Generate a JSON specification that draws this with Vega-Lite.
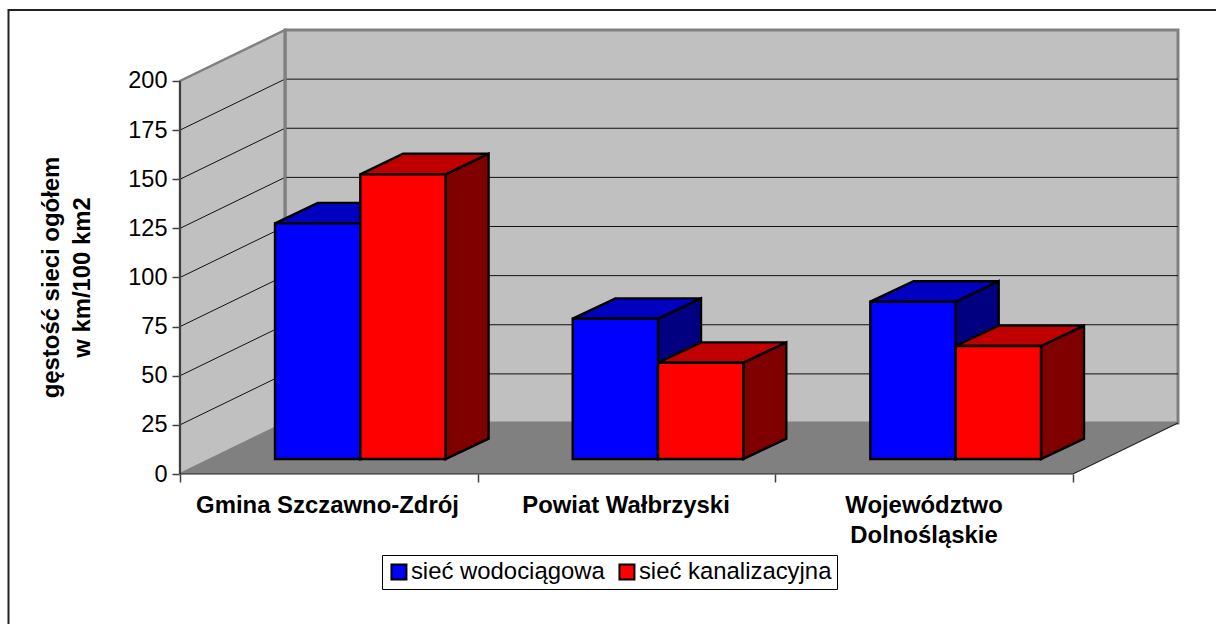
{
"$schema":"https://vega.github.io/schema/vega-lite/v6.json",
"autosize":{"type":"none"},
"padding":{"left":180,"top":30,"right":0,"bottom":150},
"width":1036,"height":444,
"background":"white",
"config":{"view":{"stroke":null},"font":"Liberation Sans"},
"datasets":{
"boki":[
{"id":"b1","seria":"sieć wodociągowa","x":180.3,"y":127.58,"y2":7.63},{"id":"b1","seria":"sieć wodociągowa","x":223.3,"y":138,"y2":18},
{"id":"b2","seria":"sieć wodociągowa","x":478,"y":79.03,"y2":7.63},{"id":"b2","seria":"sieć wodociągowa","x":521,"y":89.4,"y2":18},
{"id":"b3","seria":"sieć wodociągowa","x":775.7,"y":87.68,"y2":7.63},{"id":"b3","seria":"sieć wodociągowa","x":818.7,"y":98.1,"y2":18},
{"id":"r1","seria":"sieć kanalizacyjna","x":265.6,"y":152.5,"y2":7.63},{"id":"r1","seria":"sieć kanalizacyjna","x":308.6,"y":163,"y2":18},
{"id":"r2","seria":"sieć kanalizacyjna","x":563.3,"y":56.64,"y2":7.63},{"id":"r2","seria":"sieć kanalizacyjna","x":606.3,"y":67,"y2":18},
{"id":"r3","seria":"sieć kanalizacyjna","x":861,"y":65.14,"y2":7.63},{"id":"r3","seria":"sieć kanalizacyjna","x":904,"y":75.5,"y2":18}
],
"wierzchy":[
{"id":"b1","seria":"sieć wodociągowa","y":127.58,"x":95,"x2":180.3},{"id":"b1","seria":"sieć wodociągowa","y":138,"x":138,"x2":223.3},
{"id":"b2","seria":"sieć wodociągowa","y":79.03,"x":392.7,"x2":478},{"id":"b2","seria":"sieć wodociągowa","y":89.4,"x":435.7,"x2":521},
{"id":"b3","seria":"sieć wodociągowa","y":87.68,"x":690.3,"x2":775.7},{"id":"b3","seria":"sieć wodociągowa","y":98.1,"x":733.3,"x2":818.7},
{"id":"r1","seria":"sieć kanalizacyjna","y":152.5,"x":180.3,"x2":265.6},{"id":"r1","seria":"sieć kanalizacyjna","y":163,"x":223.3,"x2":308.6},
{"id":"r2","seria":"sieć kanalizacyjna","y":56.64,"x":478,"x2":563.3},{"id":"r2","seria":"sieć kanalizacyjna","y":67,"x":521,"x2":606.3},
{"id":"r3","seria":"sieć kanalizacyjna","y":65.14,"x":775.7,"x2":861},{"id":"r3","seria":"sieć kanalizacyjna","y":75.5,"x":818.7,"x2":904}
]
},
"encoding":{
"x":{"field":"x","type":"quantitative","title":null,"scale":{"domain":[0,1036],"nice":false,"zero":false},
"axis":{"values":[0,297.7,595.3,893],"labels":false,"domain":false,"grid":false,"tickSize":8,"tickWidth":1.5,"tickColor":"#404040"}},
"y":{"field":"y","type":"quantitative","title":["gęstość sieci ogółem","w km/100 km2"],"scale":{"domain":[0,225.95],"nice":false,"zero":false},
"axis":{"values":[0,25,50,75,100,125,150,175,200],"domain":false,"grid":false,"tickSize":8,"tickWidth":1.5,"tickColor":"#404040","labelFontSize":23.5,"labelColor":"black","labelPadding":5,"labelFont":"Liberation Sans",
"titleFontSize":23.9,"titleFont":"Liberation Sans","titleFontWeight":"bold","titleColor":"black","titleLineHeight":31,"titleAngle":-90,"titleX":-122,"titleY":247,"titleAlign":"center","titleBaseline":"alphabetic"}}
},
"layer":[
{"data":{"values":[{"x":-171.5,"x2":1060,"y":236.1,"y2":-90}]},"mark":{"type":"rect","fill":"transparent","stroke":"#222222","strokeWidth":2,"clip":false},"encoding":{"x2":{"field":"x2"},"y2":{"field":"y2"}}},
{"data":{"values":[{"x":105,"x2":998,"y":25.95,"y2":225.95}]},"mark":{"type":"rect","fill":"#C0C0C0","stroke":"#808080","strokeWidth":3},"encoding":{"x2":{"field":"x2"},"y2":{"field":"y2"}}},
{"data":{"values":[{"x":0,"y":0,"y2":200},{"x":105,"y":25.95,"y2":225.95}]},"mark":{"type":"area","fill":"#C0C0C0","stroke":"#808080","strokeWidth":2.5},"encoding":{"y2":{"field":"y2"}}},
{"data":{"values":[
{"id":"s25","x":0,"y":25},{"id":"s25","x":105,"y":50.95},{"id":"s25","x":998,"y":50.95},
{"id":"s50","x":0,"y":50},{"id":"s50","x":105,"y":75.95},{"id":"s50","x":998,"y":75.95},
{"id":"s75","x":0,"y":75},{"id":"s75","x":105,"y":100.95},{"id":"s75","x":998,"y":100.95},
{"id":"s100","x":0,"y":100},{"id":"s100","x":105,"y":125.95},{"id":"s100","x":998,"y":125.95},
{"id":"s125","x":0,"y":125},{"id":"s125","x":105,"y":150.95},{"id":"s125","x":998,"y":150.95},
{"id":"s150","x":0,"y":150},{"id":"s150","x":105,"y":175.95},{"id":"s150","x":998,"y":175.95},
{"id":"s175","x":0,"y":175},{"id":"s175","x":105,"y":200.95},{"id":"s175","x":998,"y":200.95}
]},"mark":{"type":"line","stroke":"#111111","strokeWidth":1},"encoding":{"detail":{"field":"id"},"order":{"field":"x"}}},
{"data":{"values":[{"x":105,"y":225.95,"y2":25.95}]},"mark":{"type":"rule","stroke":"#808080","strokeWidth":3},"encoding":{"y2":{"field":"y2"}}},
{"data":{"values":[{"y":0,"x":0,"x2":893},{"y":25.95,"x":105,"x2":998}]},"mark":{"type":"area","orient":"horizontal","fill":"#808080"},"encoding":{"x2":{"field":"x2"}}},
{"data":{"values":[{"id":"l","x":0,"y":0},{"id":"l","x":0,"y":200}]},"mark":{"type":"line","stroke":"#404040","strokeWidth":2},"encoding":{"detail":{"field":"id"}}},
{"data":{"values":[{"id":"p","x":0,"y":0},{"id":"p","x":893,"y":0},{"id":"p","x":998,"y":25.95}]},"mark":{"type":"line","stroke":"#222222","strokeWidth":1.2},"encoding":{"detail":{"field":"id"},"order":{"field":"x"}}},
{"data":{"name":"boki"},"transform":[{"filter":"datum.seria==='sieć wodociągowa'"}],"mark":{"type":"area","fill":"#000080","stroke":"black","strokeWidth":2.4},"encoding":{"y2":{"field":"y2"},"detail":{"field":"id"}}},
{"data":{"name":"wierzchy"},"transform":[{"filter":"datum.seria==='sieć wodociągowa'"}],"mark":{"type":"area","orient":"horizontal","fill":"#0000C0","stroke":"black","strokeWidth":2.4},"encoding":{"x2":{"field":"x2"},"detail":{"field":"id"}}},
{"data":{"name":"boki"},"transform":[{"filter":"datum.seria==='sieć kanalizacyjna'"}],"mark":{"type":"area","fill":"#800000","stroke":"black","strokeWidth":2.4},"encoding":{"y2":{"field":"y2"},"detail":{"field":"id"}}},
{"data":{"name":"wierzchy"},"transform":[{"filter":"datum.seria==='sieć kanalizacyjna'"}],"mark":{"type":"area","orient":"horizontal","fill":"#C00000","stroke":"black","strokeWidth":2.4},"encoding":{"x2":{"field":"x2"},"detail":{"field":"id"}}},
{"data":{"values":[
{"seria":"sieć wodociągowa","x":95,"x2":180.3,"y":127.58,"y2":7.63},
{"seria":"sieć kanalizacyjna","x":180.3,"x2":265.6,"y":152.5,"y2":7.63},
{"seria":"sieć wodociągowa","x":392.7,"x2":478,"y":79.03,"y2":7.63},
{"seria":"sieć kanalizacyjna","x":478,"x2":563.3,"y":56.64,"y2":7.63},
{"seria":"sieć wodociągowa","x":690.3,"x2":775.7,"y":87.68,"y2":7.63},
{"seria":"sieć kanalizacyjna","x":775.7,"x2":861,"y":65.14,"y2":7.63}
]},"mark":{"type":"rect","stroke":"black","strokeWidth":2.4},"encoding":{"x2":{"field":"x2"},"y2":{"field":"y2"},
"fill":{"field":"seria","type":"nominal","scale":{"domain":["sieć wodociągowa","sieć kanalizacyjna"],"range":["#0000FF","#FF0000"]},
"legend":{"title":null,"orient":"none","legendX":202,"legendY":525,"direction":"horizontal","columns":2,"fillColor":"white","strokeColor":"black","padding":5,"symbolType":"square","symbolSize":225,"symbolStrokeColor":"black","symbolStrokeWidth":2,"labelFontSize":23.9,"labelFont":"Liberation Sans","labelColor":"black","labelLimit":400,"labelOffset":0,"columnPadding":10,"rowPadding":0}}}},
{"data":{"values":[{"x":147.5,"y":0,"nazwa":"Gmina Szczawno-Zdrój"},{"x":446,"y":0,"nazwa":"Powiat Wałbrzyski"},{"x":744,"y":0,"nazwa":"Województwo\nDolnośląskie"}]},
"mark":{"type":"text","font":"Liberation Sans","fontWeight":"bold","fontSize":23.9,"color":"black","align":"center","baseline":"alphabetic","dy":39,"lineBreak":"\n","lineHeight":30},"encoding":{"text":{"field":"nazwa"}}}
]
}
